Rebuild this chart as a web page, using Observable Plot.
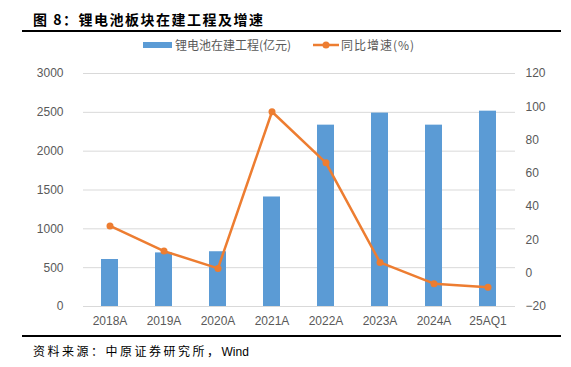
<!DOCTYPE html>
<html><head><meta charset="utf-8">
<script src="https://cdn.jsdelivr.net/npm/d3@7"></script>
<script src="https://cdn.jsdelivr.net/npm/@observablehq/plot@0.6"></script>
<style>
body{margin:0;background:#fff;font-family:"Liberation Sans",Arial,"Noto Sans CJK SC",sans-serif;}
#wrap{position:relative;width:571px;height:367px;overflow:hidden;background:#fff}
#title{position:absolute;left:33px;top:9px;font-size:14px;font-weight:bold;color:#000;font-family:"Noto Sans CJK SC",sans-serif;letter-spacing:1.5px;white-space:nowrap}
.rule{position:absolute;left:22px;width:539px;height:2px;background:#000}
#chart{position:absolute;left:0;top:60px}
#caption{position:absolute;left:33px;top:342px;font-size:12px;color:#000;font-family:"Noto Sans CJK SC",sans-serif;white-space:nowrap;letter-spacing:2.5px}
#caption span{font-family:"Liberation Sans",Arial,sans-serif;letter-spacing:0}
.leg{position:absolute;top:37px;font-size:12px;color:#595959;font-family:"Noto Sans CJK SC",sans-serif;white-space:nowrap;line-height:16px}
</style></head><body>
<div id="wrap">
  <div id="title">图 8：锂电池板块在建工程及增速</div>
  <div class="rule" style="top:30px"></div>
  <svg style="position:absolute;left:0;top:0" width="571" height="60">
    <rect x="143" y="42" width="29" height="6" fill="#5B9BD5"></rect>
    <line x1="313" y1="45" x2="339" y2="45" stroke="#ED7D31" stroke-width="2.5"></line>
    <circle cx="326" cy="45" r="3.5" fill="#ED7D31"></circle>
  </svg>
  <div class="leg" style="left:175px">锂电池在建工程(亿元)</div>
  <div class="leg" style="left:341px;letter-spacing:1px">同比增速(%)</div>
  <div id="chart"></div>
  <div class="rule" style="top:335px"></div>
  <div id="caption">资料来源：中原证券研究所，<span>Wind</span></div>
</div>
<script>
const categories = ["2018A","2019A","2020A","2021A","2022A","2023A","2024A","25AQ1"];
const capex = [605, 690, 705, 1410, 2335, 2490, 2335, 2515];
const growth = [28.4, 13.3, 2.9, 97.0, 66.3, 6.5, -6.3, -8.5];
const leftTicks = [0, 500, 1000, 1500, 2000, 2500, 3000];
const rightTicks = [-20, 0, 20, 40, 60, 80, 100, 120];

const rMin = -20, rMax = 120, lMax = 3000;
const toLeft = v => (v - rMin) * lMax / (rMax - rMin);
const fromLeft = v => v * (rMax - rMin) / lMax + rMin;

const data = categories.map((c, i) => ({cat: c, capex: capex[i], growth: growth[i]}));

const chart = Plot.plot({
  width: 571,
  height: 275,
  marginTop: 13,
  marginBottom: 29,
  marginLeft: 83,
  marginRight: 56,
  style: {fontSize: "12px", color: "#595959", fontFamily: "'Liberation Sans', Arial, sans-serif", background: "transparent"},
  x: {domain: categories, paddingInner: 0.68, paddingOuter: 0.34, label: null},
  y: {domain: [0, lMax], label: null},
  marks: [
    Plot.gridY(leftTicks, {stroke: "#d9d9d9", strokeOpacity: 1, strokeWidth: 1}),
    Plot.barY(data, {x: "cat", y: "capex", fill: "#5B9BD5"}),
    Plot.lineY(data, {x: "cat", y: d => toLeft(d.growth), stroke: "#ED7D31", strokeWidth: 2.5}),
    Plot.dot(data, {x: "cat", y: d => toLeft(d.growth), fill: "#ED7D31", r: 3.5}),
    Plot.axisY(leftTicks, {anchor: "left", tickSize: 0, tickPadding: 20, label: null,
      tickFormat: v => String(v)}),
    Plot.axisY(rightTicks.map(toLeft), {anchor: "right", tickSize: 0, tickPadding: 10, label: null,
      tickFormat: v => String(Math.round(fromLeft(v))).replace("-", "\u2212")}),
    Plot.axisX({tickSize: 0, tickPadding: 10, label: null})
  ]
});
document.getElementById("chart").appendChild(chart);
</script>
</body></html>
